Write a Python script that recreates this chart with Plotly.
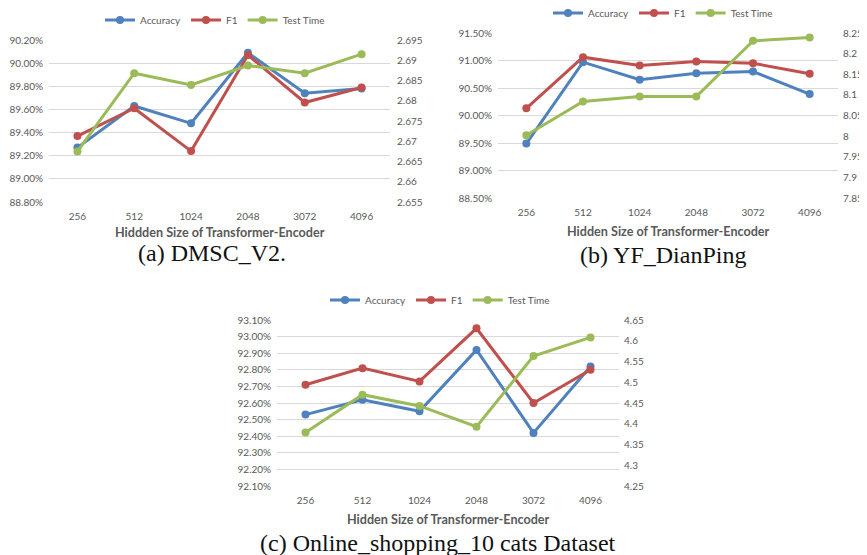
import plotly.graph_objects as go

sizes = ["256", "512", "1024", "2048", "3072", "4096"]

# (a) DMSC_V2
a_acc = [89.27, 89.63, 89.48, 90.09, 89.74, 89.78]
a_f1 = [89.37, 89.61, 89.24, 90.07, 89.66, 89.79]
a_time = [2.6675, 2.6868, 2.6839, 2.6887, 2.6868, 2.6915]
a_right_vals = [2.655, 2.66, 2.665, 2.67, 2.675, 2.68, 2.685, 2.69, 2.695]
a_right_text = ["2.655", "2.66", "2.665", "2.67", "2.675", "2.68", "2.685", "2.69", "2.695"]

# (b) YF_DianPing
b_acc = [89.49, 90.97, 90.65, 90.77, 90.80, 90.39]
b_f1 = [90.13, 91.06, 90.91, 90.98, 90.95, 90.76]
b_time = [8.002, 8.084, 8.096, 8.096, 8.231, 8.239]
b_right_vals = [7.85, 7.9, 7.95, 8.0, 8.05, 8.1, 8.15, 8.2, 8.25]
b_right_text = ["7.85", "7.9", "7.95", "8", "8.05", "8.1", "8.15", "8.2", "8.25"]

# (c) Online_shopping_10 cats
c_acc = [92.53, 92.62, 92.55, 92.92, 92.42, 92.82]
c_f1 = [92.71, 92.81, 92.73, 93.05, 92.60, 92.80]
c_time = [4.379, 4.470, 4.443, 4.393, 4.563, 4.608]
c_right_vals = [4.25, 4.3, 4.35, 4.4, 4.45, 4.5, 4.55, 4.6, 4.65]
c_right_text = ["4.25", "4.3", "4.35", "4.4", "4.45", "4.5", "4.55", "4.6", "4.65"]

series_names = ["Accuracy", "F1", "Test Time"]
colors = ["#4F81BD", "#C0504D", "#9BBB59"]

OFF = 8  # page body margin
W, H = 867 - OFF, 555 - OFF
FONT = "Lato"
GRAY = "#595959"


def fx(px):
    return (px - OFF) / W


def fy(py):
    return 1 - (py - OFF) / H


panels = [
    dict(acc=a_acc, f1=a_f1, time=a_time, rv=a_right_vals, rt=a_right_text,
         lrange=[88.8, 90.2], ldtick=0.2, rrange=[2.655, 2.695],
         px=(49, 390), py=(40, 202), legend_xy=(215, 20), rstand=6,
         xtitle="Hiddden Size of Transformer-Encoder", xtitle_y=232,
         caption="(a) DMSC_V2.", cap_xy=(212, 253)),
    dict(acc=b_acc, f1=b_f1, time=b_time, rv=b_right_vals, rt=b_right_text,
         lrange=[88.5, 91.5], ldtick=0.5, rrange=[7.85, 8.25],
         px=(498, 838), py=(33, 198), legend_xy=(663, 13), rstand=4,
         xtitle="Hidden Size of Transformer-Encoder", xtitle_y=231,
         caption="(b) YF_DianPing", cap_xy=(663, 255)),
    dict(acc=c_acc, f1=c_f1, time=c_time, rv=c_right_vals, rt=c_right_text,
         lrange=[92.1, 93.1], ldtick=0.1, rrange=[4.25, 4.65],
         px=(277, 619), py=(320, 486), legend_xy=(440, 300), rstand=4,
         xtitle="Hidden Size of Transformer-Encoder", xtitle_y=519,
         caption="(c) Online_shopping_10 cats Dataset", cap_xy=(438, 543)),
]

fig = go.Figure()
layout = dict(
    width=W, height=H, margin=dict(l=0, r=0, t=0, b=0, autoexpand=False),
    paper_bgcolor="white", plot_bgcolor="rgba(0,0,0,0)",
    font=dict(family=FONT, color=GRAY, size=10),
    annotations=[],
)

for i, p in enumerate(panels):
    xa = "x" if i == 0 else f"x{i+1}"
    yl_idx = 2 * i + 1
    yr_idx = 2 * i + 2
    yl = "y" if yl_idx == 1 else f"y{yl_idx}"
    yr = f"y{yr_idx}"
    leg = "legend" if i == 0 else f"legend{i+1}"
    vals = [p["acc"], p["f1"], p["time"]]
    for k in range(3):
        fig.add_trace(go.Scatter(
            x=sizes, y=vals[k], name=series_names[k], mode="lines+markers",
            line=dict(color=colors[k], width=3),
            marker=dict(color=colors[k], size=8),
            xaxis=xa, yaxis=yl if k < 2 else yr, legend=leg,
            showlegend=True,
        ))
    x0, x1 = p["px"]
    y0, y1 = p["py"]
    xdom = [fx(x0), fx(x1)]
    ydom = [fy(y1), fy(y0)]
    xkey = "xaxis" if i == 0 else f"xaxis{i+1}"
    ylkey = "yaxis" if yl_idx == 1 else f"yaxis{yl_idx}"
    yrkey = f"yaxis{yr_idx}"
    layout[xkey] = dict(domain=xdom, anchor=yl, type="category",
                        range=[-0.5, 5.5], showgrid=False, showline=False,
                        ticks="", tickfont=dict(size=10, color=GRAY),
                        ticklabelstandoff=7, zeroline=False)
    layout[ylkey] = dict(domain=ydom, anchor=xa, range=p["lrange"],
                         dtick=p["ldtick"], tick0=p["lrange"][0],
                         tickformat=".2f", ticksuffix="%",
                         showgrid=True, gridcolor="#D9D9D9", gridwidth=1,
                         zeroline=False, showline=False, ticks="",
                         tickfont=dict(size=10, color=GRAY),
                         ticklabelstandoff=5)
    layout[yrkey] = dict(domain=ydom, anchor=xa, overlaying=yl, side="right",
                         range=p["rrange"], tickmode="array",
                         tickvals=p["rv"], ticktext=p["rt"],
                         showgrid=False, zeroline=False, showline=False,
                         ticks="", tickfont=dict(size=10, color=GRAY),
                         ticklabelstandoff=p["rstand"])
    lx, ly = p["legend_xy"]
    layout[leg] = dict(orientation="h", x=fx(lx), y=fy(ly),
                       xanchor="center", yanchor="middle",
                       font=dict(size=10, color=GRAY, family=FONT),
                       bgcolor="rgba(0,0,0,0)", itemwidth=30,
                       tracegroupgap=0, itemclick=False)
    layout["annotations"].append(dict(
        text=p["xtitle"], x=fx((x0 + x1) / 2), y=fy(p["xtitle_y"]),
        xref="paper", yref="paper", showarrow=False,
        xanchor="center", yanchor="middle",
        font=dict(size=12.6, color=GRAY, family=FONT, weight="bold")))
    cx, cy = p["cap_xy"]
    layout["annotations"].append(dict(
        text=p["caption"], x=fx(cx), y=fy(cy),
        xref="paper", yref="paper", showarrow=False,
        xanchor="center", yanchor="middle",
        font=dict(size=24, color="#111111", family="Liberation Serif")))

fig.update_layout(**layout)
fig.write_html("out.html")
